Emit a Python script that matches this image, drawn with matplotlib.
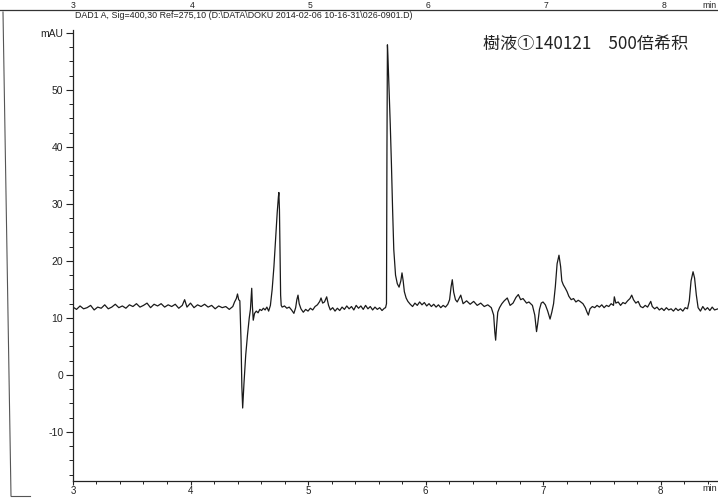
import matplotlib
matplotlib.use("Agg")
import matplotlib.pyplot as plt
from matplotlib.ticker import MultipleLocator
from matplotlib.lines import Line2D

# DAD1 A trace, retention time (min) vs absorbance (mAU)
rt = [3.00, 3.03, 3.06, 3.09, 3.12, 3.15, 3.18, 3.21, 3.24, 3.27, 3.30, 3.33,
      3.36, 3.39, 3.42, 3.45, 3.48, 3.51, 3.54, 3.57, 3.60, 3.63, 3.66, 3.69,
      3.72, 3.75, 3.78, 3.81, 3.84, 3.87, 3.90, 3.93, 3.95, 3.97, 4.00, 4.03,
      4.06, 4.09, 4.12, 4.15, 4.18, 4.21, 4.24, 4.27, 4.30, 4.33,
      4.36, 4.375, 4.39, 4.40, 4.41, 4.42, 4.43, 4.437, 4.444, 4.455, 4.47,
      4.485, 4.50, 4.51, 4.521, 4.527, 4.534, 4.545, 4.56, 4.575, 4.59, 4.605,
      4.62, 4.635, 4.65, 4.665, 4.68, 4.695, 4.71, 4.725, 4.738, 4.748, 4.752,
      4.757, 4.762, 4.767, 4.772,
      4.78, 4.80, 4.82, 4.84, 4.86, 4.88, 4.895, 4.905, 4.915, 4.925, 4.94,
      4.96, 4.98, 5.00, 5.02, 5.04, 5.06, 5.08, 5.10, 5.111, 5.125, 5.14,
      5.159, 5.175, 5.19, 5.21, 5.23, 5.25, 5.27, 5.29, 5.31, 5.33, 5.35, 5.37,
      5.39, 5.41, 5.43, 5.45, 5.47, 5.49, 5.51, 5.53, 5.55, 5.57, 5.59, 5.61,
      5.63, 5.65, 5.66, 5.668, 5.672, 5.676, 5.68, 5.69, 5.70, 5.71, 5.72,
      5.73, 5.745, 5.76, 5.775, 5.79, 5.80, 5.81, 5.82, 5.835, 5.85,
      5.87, 5.89, 5.91, 5.93, 5.95, 5.97, 5.99, 6.01, 6.03, 6.05, 6.07, 6.09,
      6.11, 6.13, 6.15, 6.17, 6.19, 6.205, 6.218, 6.228, 6.24, 6.255, 6.27,
      6.30, 6.32, 6.35, 6.38, 6.41, 6.44, 6.47, 6.50, 6.53, 6.56,
      6.58, 6.59, 6.597, 6.605, 6.615, 6.63, 6.65, 6.67, 6.696, 6.72, 6.745,
      6.77, 6.79, 6.81, 6.83, 6.86, 6.88, 6.91, 6.93, 6.945, 6.955, 6.97,
      6.985, 7.00, 7.02, 7.04, 7.06, 7.075, 7.09, 7.105, 7.12, 7.136, 7.15,
      7.16, 7.173, 7.19, 7.205, 7.22, 7.24, 7.26, 7.28, 7.30, 7.315, 7.34,
      7.36, 7.375, 7.386, 7.40, 7.42, 7.44, 7.46, 7.48, 7.50, 7.52, 7.54,
      7.56, 7.58, 7.60, 7.607, 7.62, 7.64, 7.66, 7.68, 7.70, 7.72, 7.74,
      7.755, 7.77, 7.79, 7.81, 7.83, 7.85, 7.87, 7.89, 7.917, 7.93, 7.95,
      7.97, 7.99, 8.01, 8.03, 8.05, 8.07, 8.09, 8.11, 8.13, 8.15, 8.17, 8.19,
      8.21, 8.23, 8.245, 8.26, 8.277, 8.29, 8.305, 8.32, 8.34, 8.36, 8.38,
      8.40, 8.42, 8.44, 8.46, 8.49]
mau = [11.9, 11.5, 12.1, 11.6, 11.8, 12.2, 11.4, 11.9, 11.7, 12.3, 11.6, 11.9,
       12.4, 11.8, 12.1, 11.7, 12.3, 12.0, 12.5, 11.9, 12.2, 12.6, 11.8, 12.4,
       12.1, 12.5, 11.9, 12.3, 12.0, 12.4, 11.7, 12.2, 13.2, 11.9, 12.6, 11.8,
       12.3, 12.0, 12.4, 11.9, 12.2, 11.6, 12.1, 11.8, 12.0, 11.5,
       12.0, 12.8, 13.4, 14.2, 13.2, 13.0, 6.0, -2.0, -5.8, -1.5, 3.5,
       7.0, 10.0, 11.5, 15.2, 12.0, 9.6, 10.8, 11.2, 10.9, 11.5, 11.3,
       11.7, 11.4, 11.9, 11.2, 12.2, 15.0, 19.0, 24.0, 28.5, 31.2, 32.0,
       29.0, 22.0, 14.0, 12.2,
       11.9, 12.1, 11.7, 11.9, 11.4, 10.8, 11.8, 13.2, 14.0, 12.5, 11.6,
       11.0, 11.5, 11.2, 11.7, 11.4, 12.0, 12.3, 12.9, 13.5, 12.6, 12.8,
       13.7, 12.2, 11.4, 11.8, 11.2, 11.7, 11.3, 11.9, 11.5, 12.1, 11.6, 12.0,
       11.4, 12.2, 11.7, 12.1, 11.5, 12.2, 11.6, 12.0, 11.4, 11.9, 11.5, 11.8,
       11.3, 11.7, 11.8, 12.5, 40.0, 57.9, 56.0, 50.0, 44.0, 37.0, 29.0,
       22.0, 17.5, 16.0, 15.4, 16.5, 17.9, 16.5, 14.6, 13.5, 12.9,
       12.4, 12.0, 12.6, 12.2, 12.8, 12.3, 12.7, 12.1, 12.5, 12.0, 12.4, 11.9,
       12.3, 11.8, 12.2, 11.9, 12.4, 13.2, 15.5, 16.7, 14.5, 13.2, 12.8,
       14.0, 12.5, 13.0, 12.4, 12.9, 12.2, 12.6, 12.0, 12.3, 11.8,
       10.5, 7.5, 6.1, 8.5, 11.0, 11.8, 12.5, 13.0, 13.5, 12.2, 12.6,
       13.6, 14.1, 13.2, 13.4, 12.6, 12.8, 12.2, 10.5, 7.6, 9.0, 11.5,
       12.6, 12.8, 12.3, 11.2, 9.8, 11.0, 12.5, 15.5, 19.5, 21.0, 19.0,
       16.5, 15.8, 15.2, 14.6, 13.8, 13.2, 13.4, 12.8, 13.1, 12.9, 12.5,
       11.8, 11.0, 10.5, 11.6, 12.0, 11.8, 12.2, 11.9, 12.3, 11.8, 12.2,
       12.0, 12.5, 12.2, 13.7, 12.6, 12.8, 12.2, 12.7, 12.5, 13.0, 13.4,
       14.0, 13.2, 12.6, 12.9, 12.0, 11.8, 12.2, 11.9, 12.9, 12.0, 11.6,
       11.9, 11.4, 11.7, 11.3, 11.8, 11.4, 11.6, 11.2, 11.7, 11.3, 11.6, 11.2,
       11.8, 11.6, 13.0, 16.5, 18.1, 17.0, 14.0, 11.8, 11.2, 12.0, 11.4,
       11.8, 11.3, 11.9, 11.4, 11.6]

y_ticks = [-10, 0, 10, 20, 30, 40, 50, 60]
y_labels = ["-10", "0", "10", "20", "30", "40", "50", "mAU"]
x_ticks = [3, 4, 5, 6, 7, 8]

title = r"DAD1 A, Sig=400,30 Ref=275,10 (D:\DATA\DOKU 2014-02-06 10-16-31\026-0901.D)"
note = "樹液①140121　500倍希积"

W, H = 718, 498
fig = plt.figure(figsize=(W / 100, H / 100), dpi=100)
fig.patch.set_facecolor("white")

ax = fig.add_axes([73 / W, 17 / H, (731 - 73) / W, (481 - 30) / H])
ax.plot(rt, mau, color="#1a1a1a", lw=0.9)
ax.set_xlim(3, 8.6)
ax.set_ylim(-18.6, 60.5)

for s in ("top", "right"):
    ax.spines[s].set_visible(False)
for s in ("left", "bottom"):
    ax.spines[s].set_color("#222222")
    ax.spines[s].set_linewidth(0.9)

ax.set_yticks(y_ticks)
ax.set_yticklabels(y_labels)
ax.yaxis.set_minor_locator(MultipleLocator(2.5))
ax.set_xticks(x_ticks)
ax.xaxis.set_minor_locator(MultipleLocator(0.2))
ax.tick_params(axis="y", which="major", direction="out", length=5, width=0.8,
               labelsize=7.5, pad=2, colors="#222222")
ax.tick_params(axis="y", which="minor", direction="out", length=3, width=0.7,
               colors="#222222")
ax.tick_params(axis="x", which="major", direction="out", length=3, width=0.8,
               labelsize=7, pad=0.5, colors="#222222")
ax.tick_params(axis="x", which="minor", direction="out", length=2, width=0.7,
               colors="#222222")
for lab in ax.get_xticklabels() + ax.get_yticklabels():
    lab.set_family("Liberation Sans")

fig.text(717 / W, 1 - 484 / H, "min", ha="right", va="top",
         fontsize=6.5, family="Liberation Sans", color="#222222")

# header and sample note
fig.text(75 / W, 1 - 16 / H, title, ha="left", va="center", fontsize=6.4,
         family="Liberation Sans", color="#222222")
fig.text(483 / W, 1 - 44 / H, note, ha="left", va="center", fontsize=12.3,
         family=["Noto Sans CJK JP", "DejaVu Sans"], color="#222222")

# axis of the trace above, cut off by the page edge
fig.add_artist(Line2D([0, 1], [1 - 10 / H, 1 - 10 / H], transform=fig.transFigure,
                      color="#333333", lw=0.9))
for xp, s in zip([73, 192, 310, 428, 546, 664], ["3", "4", "5", "6", "7", "8"]):
    fig.text(xp / W, 1 - 0.5 / H, s, ha="center", va="top", fontsize=6.2,
             family="Liberation Sans", color="#222222")
fig.text(717 / W, 1 - 0.5 / H, "min", ha="right", va="top", fontsize=6.2,
         family="Liberation Sans", color="#222222")

# page border on the left
fig.add_artist(Line2D([3 / W, 11 / W], [1 - 12 / H, 1 - 496 / H],
                      transform=fig.transFigure, color="#555555", lw=0.8))
fig.add_artist(Line2D([11 / W, 30 / W], [1 - 496 / H, 1 - 496 / H],
                      transform=fig.transFigure, color="#555555", lw=0.8))

fig.savefig("out.png", dpi=100, facecolor="white")
